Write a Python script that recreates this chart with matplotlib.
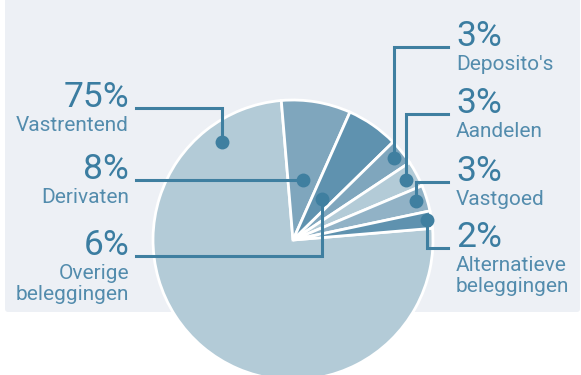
import numpy as np
import matplotlib.pyplot as plt
from matplotlib.patches import FancyBboxPatch

# data
labels = ["Vastrentend", "Derivaten", "Overige\nbeleggingen", "Deposito's",
          "Aandelen", "Vastgoed", "Alternatieve\nbeleggingen"]
shares = [75, 8, 6, 3, 3, 3, 2]
pct_labels = ["75%", "8%", "6%", "3%", "3%", "3%", "2%"]
colors = ["#b3cbd7", "#7fa6bd", "#5f92af", "#7fa6bd", "#b3cbd7", "#91b2c6", "#5f92af"]

# layout (pixels, y measured from top)
W, H = 581, 375
center = (293, 240)
radius = 140
side = ["left", "left", "left", "right", "right", "right", "right"]
row_y = [108, 180, 256, 47, 114, 182, 248]
dot_r = [0.864, 0.436, 0.357, 0.929, 0.914, 0.921, 0.964]
dot_ang = [126, None, None, None, None, None, None]

pct_col = "#3b7da1"
lab_col = "#538cad"
line_col = "#3f7fa0"
plt.rcParams["font.family"] = ["Roboto", "DejaVu Sans"]


def fy(py):
    return H - py


fig = plt.figure(figsize=(W / 100, H / 100), dpi=100)
ax = fig.add_axes([0, 0, 1, 1])

bg = FancyBboxPatch((5, fy(312)), 575, 320, boxstyle="round,pad=0,rounding_size=3",
                    facecolor="#edf0f5", edgecolor="none", zorder=0)
ax.add_patch(bg)

wedges, _ = ax.pie(shares, colors=colors, startangle=4.8, counterclock=False,
                   center=(center[0], fy(center[1])), radius=radius,
                   wedgeprops=dict(edgecolor="white", linewidth=2), frame=True)
for w in wedges:
    w.set_zorder(2)

for i, w in enumerate(wedges):
    ang = dot_ang[i] if dot_ang[i] is not None else (w.theta1 + w.theta2) / 2
    dx = center[0] + dot_r[i] * radius * np.cos(np.radians(ang))
    dy = fy(center[1]) + dot_r[i] * radius * np.sin(np.radians(ang))
    ry = fy(row_y[i])
    end_x = 136 if side[i] == "left" else 448
    ax.plot([dx, dx, end_x], [dy, ry, ry], color=line_col, lw=2.2,
            solid_joinstyle="miter", zorder=3)
    ax.plot(dx, dy, "o", ms=10, color=line_col, mec="none", zorder=4)
    if side[i] == "left":
        tx, ha = 129, "right"
    else:
        tx, ha = 456, "left"
    ax.text(tx, ry + 1, pct_labels[i], ha=ha, va="baseline", fontsize=25.5,
            color=pct_col, zorder=5)
    ax.text(tx, ry - 8, labels[i], ha=ha, va="top", fontsize=15,
            color=lab_col, linespacing=1.1, zorder=5)

ax.set_xlim(0, W)
ax.set_ylim(0, H)
ax.set_aspect("auto")
ax.axis("off")
fig.savefig("out.png", dpi=100, facecolor="white")
